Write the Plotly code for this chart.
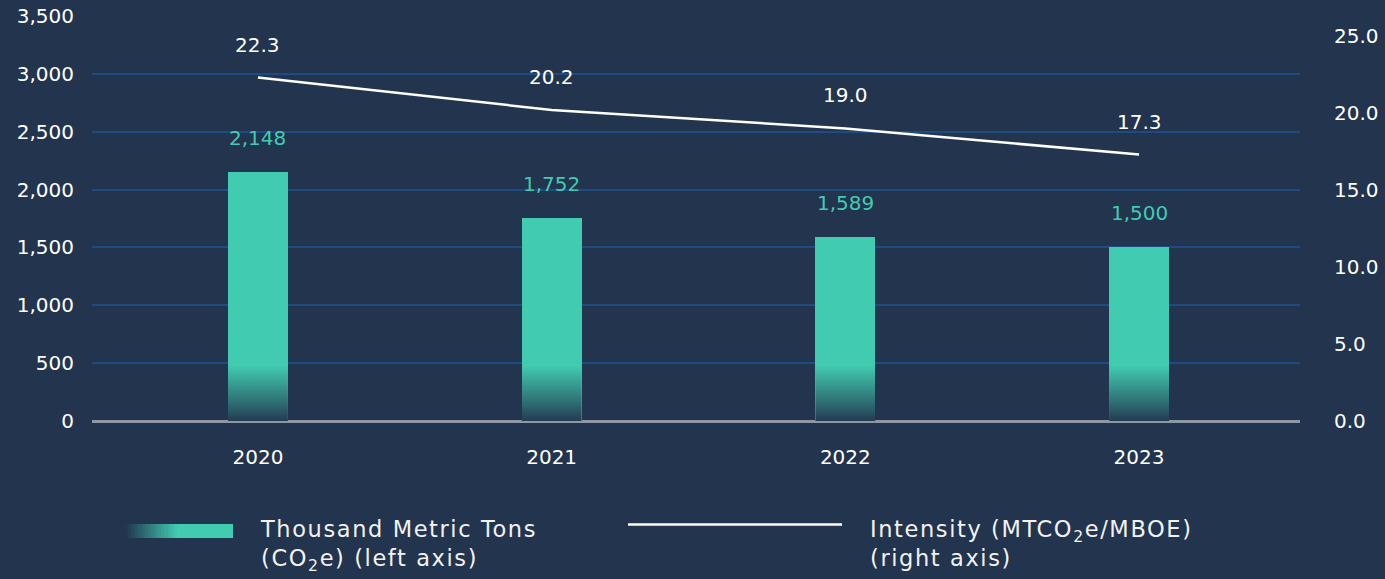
import plotly.graph_objects as go

# ---- data ----
years = [2020, 2021, 2022, 2023]
emissions = [2148, 1752, 1589, 1500]          # thousand metric tons CO2e (left axis)
intensity = [22.3, 20.2, 19.0, 17.3]          # MTCO2e/MBOE (right axis)
left_ticks = [0, 500, 1000, 1500, 2000, 2500, 3000, 3500]
right_ticks = [0, 5, 10, 15, 20, 25]
year_labels = ["2020", "2021", "2022", "2023"]

# ---- style ----
BG = "#22344E"
TEAL = "#41CBB1"
GRID = "#1D4B82"
FONT = "DejaVu Sans"
BAR_W = 0.204
FADE_H = 480

fig = go.Figure()

fig.add_trace(go.Bar(
    x=years, y=emissions, width=BAR_W, marker=dict(color=TEAL, line=dict(width=0)),
    yaxis="y", hoverinfo="skip", showlegend=False,
))

# gradient fade at the bottom of each bar
for yr in years:
    fig.add_trace(go.Scatter(
        x=[yr - BAR_W / 2, yr + BAR_W / 2, yr + BAR_W / 2, yr - BAR_W / 2, yr - BAR_W / 2],
        y=[0, 0, FADE_H, FADE_H, 0],
        mode="lines", line=dict(width=0), fill="toself",
        fillgradient=dict(type="vertical", start=0, stop=FADE_H,
                          colorscale=[[0, "rgba(34,52,78,0.95)"], [0.35, "rgba(34,52,78,0.6)"],
                                      [1, "rgba(34,52,78,0)"]]),
        hoverinfo="skip", showlegend=False, yaxis="y",
    ))

fig.add_trace(go.Scatter(
    x=years, y=intensity, mode="lines", line=dict(color="white", width=2.5),
    yaxis="y2", hoverinfo="skip", showlegend=False,
))

annotations = []
for yr, v in zip(years, emissions):
    annotations.append(dict(x=yr, y=v, xref="x", yref="y", text=f"{v:,}", showarrow=False,
                            yshift=34, font=dict(family=FONT, size=20, color=TEAL)))
for yr, v in zip(years, intensity):
    annotations.append(dict(x=yr, y=v, xref="x", yref="y2", text=f"{v:.1f}", showarrow=False,
                            yshift=33, font=dict(family=FONT, size=20, color="white")))

# custom legend
TOP, BOT = 16, 421
W, H = 1208.0, float(BOT - TOP)
def px(x):
    return (x - 92) / W
def py(y):
    return (BOT - y) / H

shapes = []
n = 16
x0, x1 = 125, 177
for i in range(n):
    t = (i + 0.5) / n
    r = int(34 + (65 - 34) * t)
    g = int(52 + (203 - 52) * t)
    b = int(78 + (177 - 78) * t)
    shapes.append(dict(type="rect", xref="paper", yref="paper",
                       x0=px(x0 + (x1 - x0) * i / n), x1=px(x0 + (x1 - x0) * (i + 1) / n + 0.5),
                       y0=py(538), y1=py(524), fillcolor=f"rgb({r},{g},{b})", line=dict(width=0)))
shapes.append(dict(type="rect", xref="paper", yref="paper", x0=px(x1), x1=px(233),
                   y0=py(538), y1=py(524), fillcolor=TEAL, line=dict(width=0)))
shapes.append(dict(type="line", xref="paper", yref="paper", x0=px(628), x1=px(842),
                   y0=py(524.5), y1=py(524.5), line=dict(color="white", width=2.5)))

LS = "letter-spacing:1.6px"
annotations.append(dict(xref="paper", yref="paper", x=px(258), y=py(514), xanchor="left", yanchor="top",
                        align="left", showarrow=False,
                        text=f"<span style='{LS}'>Thousand Metric Tons</span><br>"
                             f"<span style='{LS}'>(CO<sub>2</sub>e) (left axis)</span>",
                        font=dict(family=FONT, size=22.5, color="#F2F2F2")))
annotations.append(dict(xref="paper", yref="paper", x=px(868), y=py(514), xanchor="left", yanchor="top",
                        align="left", showarrow=False,
                        text=f"<span style='{LS}'>Intensity (MTCO<sub>2</sub>e/MBOE)</span><br>"
                             f"<span style='{LS}'>(right axis)</span>",
                        font=dict(family=FONT, size=22.5, color="#F2F2F2")))

fig.update_layout(
    width=1385, height=579,
    paper_bgcolor=BG, plot_bgcolor=BG,
    margin=dict(l=92, r=85, t=TOP, b=579 - BOT, autoexpand=False),
    font=dict(family=FONT, color="white", size=20),
    showlegend=False,
    bargap=0,
    xaxis=dict(range=[2019.435, 2023.548], tickvals=years, ticktext=year_labels,
               showgrid=False, zeroline=False, showline=False, ticks="", automargin=False,
               ticklabelstandoff=22, tickfont=dict(size=20, color="white")),
    yaxis=dict(range=[0, 3500], tickvals=left_ticks, ticktext=[f"{t:,}" for t in left_ticks],
               showgrid=True, gridcolor=GRID, gridwidth=1.5, automargin=False,
               zeroline=True, zerolinecolor="#8E97A6", zerolinewidth=2.5,
               showline=False, ticks="", ticklabelstandoff=17,
               tickfont=dict(size=20, color="white")),
    yaxis2=dict(range=[0, 26.3], overlaying="y", side="right", tickvals=right_ticks,
                ticktext=[f"{t:.1f}" for t in right_ticks], showgrid=False, zeroline=False,
                showline=False, ticks="", ticklabelstandoff=33, automargin=False,
                tickfont=dict(size=20, color="white")),
    shapes=shapes,
    annotations=annotations,
)

fig.write_html("out.html", config={"displayModeBar": False},
               post_script="document.body.style.margin='0';document.body.style.background='%s';" % BG)
